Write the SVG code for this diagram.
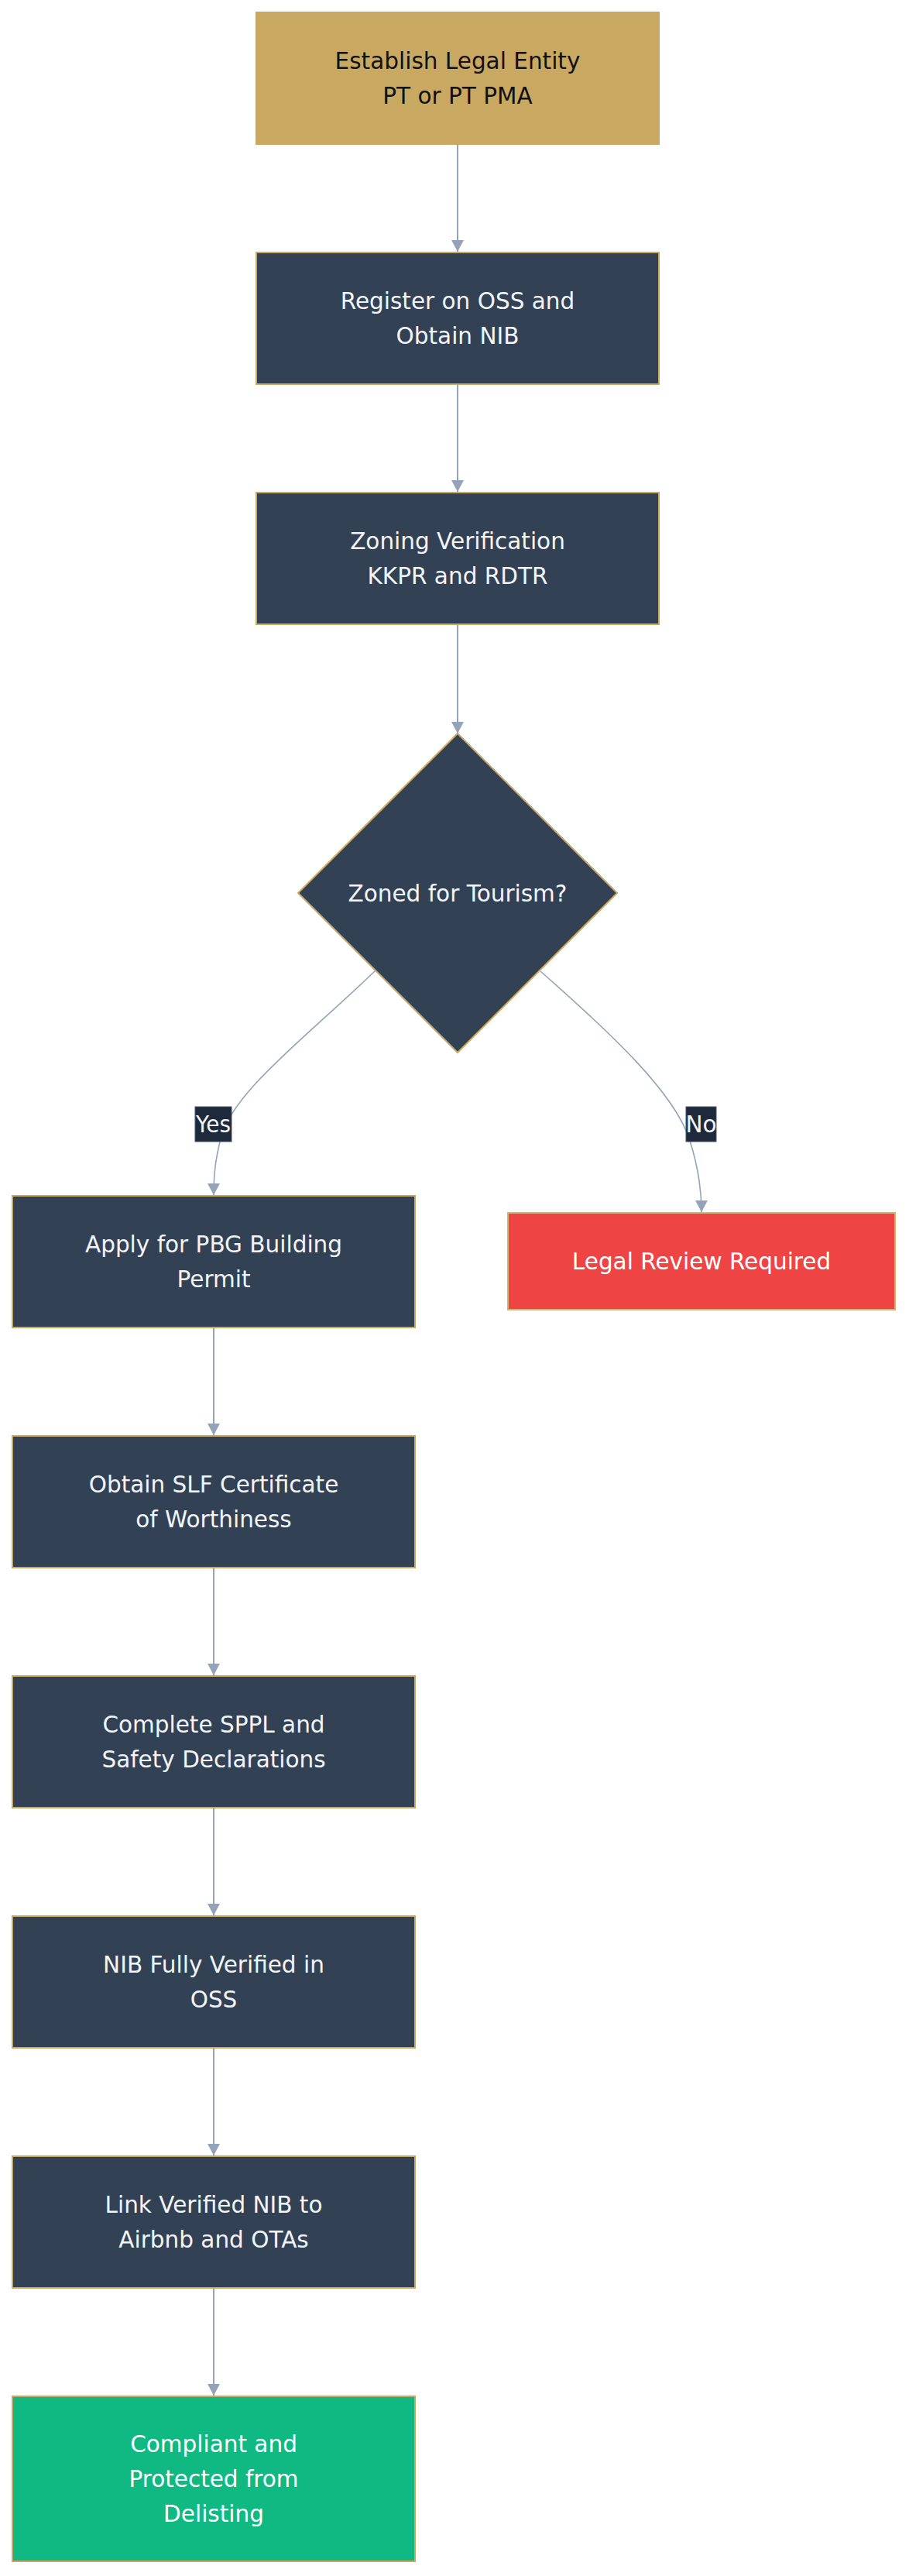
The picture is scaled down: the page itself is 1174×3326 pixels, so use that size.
<svg xmlns="http://www.w3.org/2000/svg" width="1174" height="3326" viewBox="0 0 1174 3326">
  <defs>
    <marker id="arrow" viewBox="0 0 15 16" refX="15" refY="8" markerWidth="15" markerHeight="16" markerUnits="userSpaceOnUse" orient="auto">
      <path d="M0,0 L15,8 L0,16 z" fill="#94a3b8"/>
    </marker>
    <style>
      text { font-family: "DejaVu Sans", Verdana, sans-serif; font-size: 29.5px; text-anchor: middle; }
      .step rect, .step polygon { fill: #334155; stroke: #c9a862; stroke-width: 2; }
      .step text { fill: #f1f5f9; }
      .start rect { fill: #c9a862; stroke: #c9a862; stroke-width: 2; }
      .start text { fill: #111111; }
      .stop rect { fill: #ef4444; stroke: #d4b46a; stroke-width: 2; }
      .done rect { fill: #10b981; stroke: #c9a862; stroke-width: 2; }
      .stop text, .done text { fill: #ffffff; }
      .edge { fill: none; stroke: #94a3b8; stroke-width: 2; marker-end: url(#arrow); }
      .curve { stroke-width: 1.6; }
      .label rect { fill: #1e293b; stroke: #475569; stroke-width: 1; }
      .label text { fill: #f1f5f9; }
    </style>
  </defs>
  <rect width="1174" height="3326" fill="#ffffff"/>

  <!-- connectors -->
  <g id="connectors">
    <path class="edge" d="M591,187 L591,325"/>
    <path class="edge" d="M591,497 L591,635"/>
    <path class="edge" d="M591,807 L591,947"/>
    <path class="edge curve" d="M485,1253 C395,1340 300,1410 285,1470 C279,1495 276,1512 276,1543"/>
    <path class="edge curve" d="M698,1254 C790,1335 870,1410 890,1470 C900,1500 906,1530 906,1565"/>
    <path class="edge" d="M276,1715 L276,1853"/>
    <path class="edge" d="M276,2025 L276,2163"/>
    <path class="edge" d="M276,2335 L276,2473"/>
    <path class="edge" d="M276,2645 L276,2783"/>
    <path class="edge" d="M276,2955 L276,3093"/>
    <g class="label" id="label-yes">
      <rect x="252" y="1429" width="47" height="45"/>
      <text x="275.5" y="1462" textLength="45" lengthAdjust="spacingAndGlyphs">Yes</text>
    </g>
    <g class="label" id="label-no">
      <rect x="886" y="1429" width="39" height="45"/>
      <text x="905.5" y="1462">No</text>
    </g>
  </g>

  <!-- nodes -->
  <g id="entity" class="start">
    <rect x="331" y="16" width="520" height="170"/>
    <text x="591" y="89">Establish Legal Entity</text>
    <text x="591" y="134">PT or PT PMA</text>
  </g>
  <g id="oss" class="step">
    <rect x="331" y="326" width="520" height="170"/>
    <text x="591" y="399">Register on OSS and</text>
    <text x="591" y="444">Obtain NIB</text>
  </g>
  <g id="zoning" class="step">
    <rect x="331" y="636" width="520" height="170"/>
    <text x="591" y="709">Zoning Verification</text>
    <text x="591" y="754">KKPR and RDTR</text>
  </g>
  <g id="zoned" class="step">
    <polygon points="591,947 797,1153 591,1359 385,1153"/>
    <text x="591" y="1163.5">Zoned for Tourism?</text>
  </g>
  <g id="pbg" class="step">
    <rect x="16" y="1544" width="520" height="170"/>
    <text x="276" y="1617">Apply for PBG Building</text>
    <text x="276" y="1662">Permit</text>
  </g>
  <g id="legal" class="stop">
    <rect x="656" y="1566" width="500" height="125"/>
    <text x="906" y="1639">Legal Review Required</text>
  </g>
  <g id="slf" class="step">
    <rect x="16" y="1854" width="520" height="170"/>
    <text x="276" y="1927">Obtain SLF Certificate</text>
    <text x="276" y="1972">of Worthiness</text>
  </g>
  <g id="sppl" class="step">
    <rect x="16" y="2164" width="520" height="170"/>
    <text x="276" y="2237">Complete SPPL and</text>
    <text x="276" y="2282">Safety Declarations</text>
  </g>
  <g id="nib" class="step">
    <rect x="16" y="2474" width="520" height="170"/>
    <text x="276" y="2547">NIB Fully Verified in</text>
    <text x="276" y="2592">OSS</text>
  </g>
  <g id="ota" class="step">
    <rect x="16" y="2784" width="520" height="170"/>
    <text x="276" y="2857">Link Verified NIB to</text>
    <text x="276" y="2902">Airbnb and OTAs</text>
  </g>
  <g id="compliant" class="done">
    <rect x="16" y="3094" width="520" height="213"/>
    <text x="276" y="3166">Compliant and</text>
    <text x="276" y="3211">Protected from</text>
    <text x="276" y="3256">Delisting</text>
  </g>
</svg>
